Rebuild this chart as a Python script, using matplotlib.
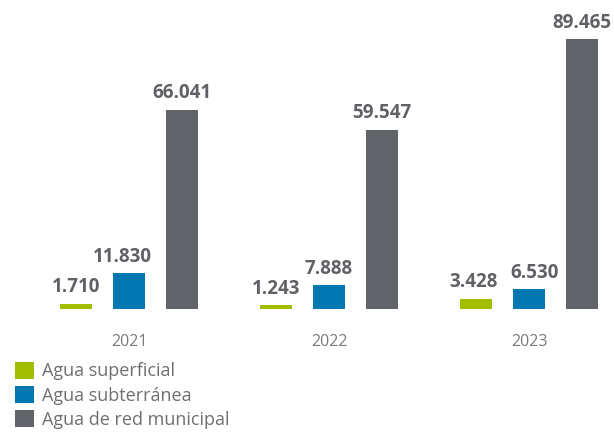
import matplotlib.pyplot as plt
import numpy as np

years = ['2021', '2022', '2023']
series = ['Agua superficial', 'Agua subterránea', 'Agua de red municipal']
superficial = [1710, 1243, 3428]
subterranea = [11830, 7888, 6530]
red_municipal = [66041, 59547, 89465]
colors = ['#a2bd00', '#0077b0', '#606368']

plt.rcParams['font.family'] = ['Open Sans', 'DejaVu Sans']

fig = plt.figure(figsize=(6.14, 4.36), dpi=100)
ax = fig.add_axes([0, 0.291, 1, 0.709])

x = np.arange(len(years))
width = 0.16
offset = 0.265
label_color = '#5f6166'
# small horizontal nudges so neighbouring value labels don't collide
nudge = {(1, 0): -0.035, (1, 2): 0.03, (0, 2): -0.01}

for k, (vals, col, name) in enumerate(zip([superficial, subterranea, red_municipal], colors, series)):
    pos = x + (k - 1) * offset
    ax.bar(pos, vals, width=width, color=col, label=name)
    for i, (p, v) in enumerate(zip(pos, vals)):
        txt = f'{v:,}'.replace(',', '.')
        ax.text(p + nudge.get((k, i), 0), v + 2200, txt, ha='center', va='bottom',
                fontsize=13.5, fontweight='bold', color=label_color)

ax.set_xlim(-0.645, 2.425)
ax.set_ylim(0, 102550)
ax.set_xticks(x)
ax.set_xticklabels(years, fontsize=11.5, color='#7a7a7a')
ax.tick_params(axis='x', length=0, pad=18)
ax.set_yticks([])
for s in ax.spines.values():
    s.set_visible(False)

leg = fig.legend(loc='lower left', bbox_to_anchor=(0.012, 0.0), frameon=False,
                 fontsize=13, handlelength=1.1, handleheight=1.1,
                 labelspacing=0.3, handletextpad=0.4, borderaxespad=0)
for t in leg.get_texts():
    t.set_color('#6f6f6f')

fig.savefig('out.png', dpi=100)
